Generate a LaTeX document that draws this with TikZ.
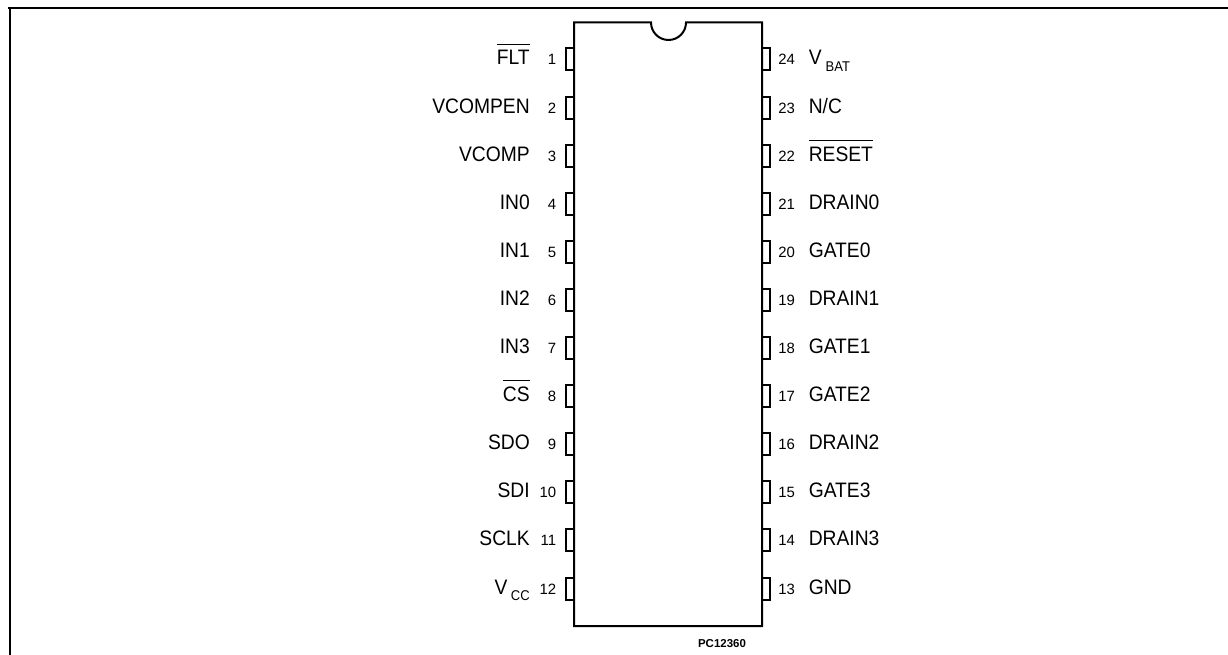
\documentclass[tikz,border=0pt]{standalone}
\usepackage{fontspec}
\setmainfont{Liberation Sans}
\newfontfamily\nmfont[FakeStretch=0.92]{Liberation Sans}
\newcommand{\ovl}[1]{\setbox0=\hbox{#1}\leavevmode\rlap{\smash{\raisebox{15.2pt}{\rule{\wd0}{0.7pt}}}}\box0}
\newcommand{\subl}[3]{#1\kern#3\raisebox{-4.6pt}{\fontsize{10.6}{12}\selectfont #2}}
\tikzset{
 chip/.style={line width=1.5pt,line join=miter},
 frameline/.style={line width=1.6pt},
 pinbox/.style={line width=1.5pt},
 pinname/.style={font=\nmfont\fontsize{15.7}{18}\selectfont,inner sep=0pt},
 pinnum/.style={font=\fontsize{11.2}{12}\selectfont,inner sep=0pt},
}
\begin{document}
\begin{tikzpicture}[x=0.75pt,y=-0.75pt]
\useasboundingbox (0,0) rectangle (1228,655);
\draw[frameline] (10,655) -- (10,7.8) -- (1228,7.8);
\draw[frameline] (8,7.8) -- (10,7.8);
\draw[chip] (574,22.5) -- (651,22.5) arc[start angle=180,end angle=0,x radius=17.5,y radius=17.5] -- (762,22.5) -- (762,626) -- (574,626) -- cycle;
\foreach \n/\t [count=\i from 0] in {1/{\ovl{FLT}},2/VCOMPEN,3/VCOMP,4/IN0,5/IN1,6/IN2,7/IN3,8/{\ovl{CS}},9/SDO,10/SDI,11/SCLK,12/{\subl{V}{CC}{2.6pt}}}{
  \pgfmathsetmacro\yy{59.5+\i*48.1}
  \draw[pinbox] (574,\yy-11) -- (566,\yy-11) -- (566,\yy+11) -- (574,\yy+11);
  \node[pinnum,anchor=base east] (n\n) at (556.5,\yy+5.5) {\n};
  \node[pinname,anchor=base east] (l\n) at (530,\yy+5.5) {\t};
}
\foreach \n/\t [count=\i from 0] in {24/{\subl{V}{BAT}{3pt}},23/{{N/C}},22/{\ovl{RESET}},21/DRAIN0,20/GATE0,19/DRAIN1,18/GATE1,17/GATE2,16/DRAIN2,15/GATE3,14/DRAIN3,13/GND}{
  \pgfmathsetmacro\yy{59.5+\i*48.1}
  \draw[pinbox] (762,\yy-11) -- (770,\yy-11) -- (770,\yy+11) -- (762,\yy+11);
  \node[pinnum,anchor=base west] (n\n) at (778,\yy+5.5) {\n};
  \node[pinname,anchor=base west] (l\n) at (808.5,\yy+5.5) {\t};
}
\node[font=\bfseries\fontsize{8.6}{9}\selectfont,inner sep=0pt] (code) at (722,644) {PC12360};
\end{tikzpicture}
\end{document}
